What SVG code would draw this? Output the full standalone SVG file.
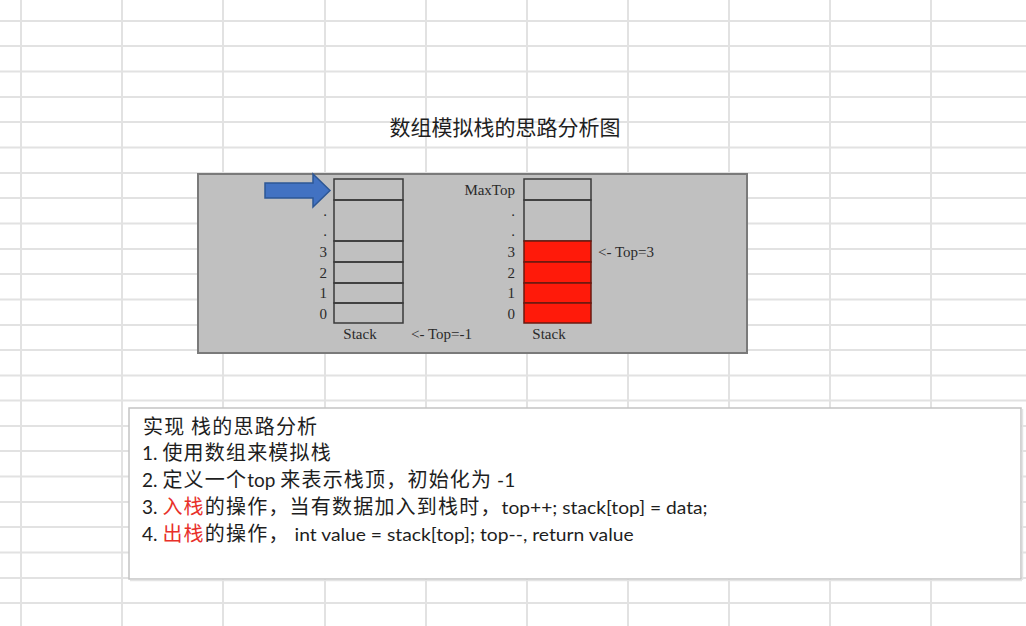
<svg xmlns="http://www.w3.org/2000/svg" width="1026" height="626" viewBox="0 0 1026 626">
<defs>
<style>
.grid line{stroke:#e2e2e2;stroke-width:2}
.serif{font-family:"Liberation Serif","Times New Roman",serif;font-size:15px;fill:#2a2a2a}
.cjk{font-family:"Noto Sans CJK SC","Noto Sans",sans-serif;fill:#1e1e1e;font-size:20px;letter-spacing:1.2px}
.en{font-family:"Lato","Liberation Sans",sans-serif;fill:#1e1e1e;letter-spacing:0}
.red{fill:#e8302a}
.cell{fill:none;stroke:#3a3a3a;stroke-width:1.5}
.redcell{fill:#ff1a0a;stroke:#6a1a10;stroke-width:1.5}
</style>
</defs>
<rect width="1026" height="626" fill="#ffffff"/>
<g class="grid" id="grid">
<line x1="21" y1="0" x2="21" y2="626"/>
<line x1="122" y1="0" x2="122" y2="626"/>
<line x1="223" y1="0" x2="223" y2="626"/>
<line x1="325" y1="0" x2="325" y2="626"/>
<line x1="426" y1="0" x2="426" y2="626"/>
<line x1="527" y1="0" x2="527" y2="626"/>
<line x1="628" y1="0" x2="628" y2="626"/>
<line x1="729" y1="0" x2="729" y2="626"/>
<line x1="830" y1="0" x2="830" y2="626"/>
<line x1="931" y1="0" x2="931" y2="626"/>
<line x1="0" y1="21" x2="1026" y2="21"/>
<line x1="0" y1="46" x2="1026" y2="46"/>
<line x1="0" y1="71.5" x2="1026" y2="71.5"/>
<line x1="0" y1="97" x2="1026" y2="97"/>
<line x1="0" y1="122" x2="1026" y2="122"/>
<line x1="0" y1="147.5" x2="1026" y2="147.5"/>
<line x1="0" y1="173" x2="1026" y2="173"/>
<line x1="0" y1="198" x2="1026" y2="198"/>
<line x1="0" y1="223.5" x2="1026" y2="223.5"/>
<line x1="0" y1="249" x2="1026" y2="249"/>
<line x1="0" y1="274" x2="1026" y2="274"/>
<line x1="0" y1="299.5" x2="1026" y2="299.5"/>
<line x1="0" y1="325" x2="1026" y2="325"/>
<line x1="0" y1="350" x2="1026" y2="350"/>
<line x1="0" y1="375.5" x2="1026" y2="375.5"/>
<line x1="0" y1="400.5" x2="1026" y2="400.5"/>
<line x1="0" y1="426" x2="1026" y2="426"/>
<line x1="0" y1="451" x2="1026" y2="451"/>
<line x1="0" y1="476.5" x2="1026" y2="476.5"/>
<line x1="0" y1="502" x2="1026" y2="502"/>
<line x1="0" y1="527" x2="1026" y2="527"/>
<line x1="0" y1="552.5" x2="1026" y2="552.5"/>
<line x1="0" y1="578" x2="1026" y2="578"/>
<line x1="0" y1="603" x2="1026" y2="603"/>
</g>

<g id="title">
<text x="505" y="135" font-family="Noto Sans CJK SC, Noto Sans, sans-serif" font-size="21" fill="#1e1e1e" text-anchor="middle">数组模拟栈的思路分析图</text>
</g>

<g id="panel">
<rect x="198" y="174" width="549" height="179" fill="#c0c0c0" stroke="#7a7a7a" stroke-width="2"/>
</g>

<g id="stack-empty">
<rect class="cell" x="334" y="179" width="69" height="21"/>
<rect class="cell" x="334" y="200" width="69" height="41"/>
<rect class="cell" x="334" y="241" width="69" height="21"/>
<rect class="cell" x="334" y="262" width="69" height="21"/>
<rect class="cell" x="334" y="283" width="69" height="20"/>
<rect class="cell" x="334" y="303" width="69" height="20"/>
<g class="serif" text-anchor="end">
<text x="327" y="216">.</text>
<text x="327" y="236">.</text>
<text x="327" y="257">3</text>
<text x="327" y="278">2</text>
<text x="327" y="298">1</text>
<text x="327" y="319">0</text>
</g>
<text class="serif" x="360" y="339" text-anchor="middle">Stack</text>
<text class="serif" x="411" y="339">&lt;- Top=-1</text>
</g>

<g id="stack-full">
<rect class="cell" x="524" y="179" width="67" height="21"/>
<rect class="cell" x="524" y="200" width="67" height="41"/>
<rect class="redcell" x="524" y="241" width="67" height="21"/>
<rect class="redcell" x="524" y="262" width="67" height="21"/>
<rect class="redcell" x="524" y="283" width="67" height="20"/>
<rect class="redcell" x="524" y="303" width="67" height="20"/>
<g class="serif" text-anchor="end">
<text x="515" y="195">MaxTop</text>
<text x="515" y="216">.</text>
<text x="515" y="236">.</text>
<text x="515" y="257">3</text>
<text x="515" y="278">2</text>
<text x="515" y="298">1</text>
<text x="515" y="319">0</text>
</g>
<text class="serif" x="549" y="339" text-anchor="middle">Stack</text>
<text class="serif" x="598" y="257">&lt;- Top=3</text>
</g>

<g id="connectors">
<path d="M265,183 L313,183 L313,174 L330,190.5 L313,207 L313,198 L265,198 Z" fill="#4272c2" stroke="#2d5795" stroke-width="1.5"/>
</g>

<g id="notes">
<rect x="129" y="408" width="892" height="171" fill="#ffffff" stroke="#c4c4c4" stroke-width="1.5"/>
<line x1="130" y1="580.5" x2="1022" y2="580.5" stroke="#e4e4e4" stroke-width="1.5"/>
<line x1="1022.5" y1="409" x2="1022.5" y2="580" stroke="#e4e4e4" stroke-width="1.5"/>
<text class="cjk" x="143" y="434">实现 栈的思路分析</text>
<text class="cjk" x="142" y="460"><tspan class="en" font-size="19">1. </tspan>使用数组来模拟栈</text>
<text class="cjk" x="142" y="487"><tspan class="en" font-size="19">2. </tspan>定义一个<tspan class="en" font-size="19">top </tspan>来表示栈顶，初始化为<tspan class="en" font-size="19"> -1</tspan></text>
<text class="cjk" x="142" y="514"><tspan class="en" font-size="19">3. </tspan><tspan class="red">入栈</tspan>的操作，当有数据加入到栈时，<tspan class="en" font-size="18" textLength="206" lengthAdjust="spacingAndGlyphs">top++; stack[top] = data;</tspan></text>
<text class="cjk" x="142" y="541"><tspan class="en" font-size="19">4. </tspan><tspan class="red">出栈</tspan>的操作，<tspan class="en" font-size="18" textLength="344" lengthAdjust="spacingAndGlyphs"> int value = stack[top]; top--, return value</tspan></text>
</g>
</svg>
